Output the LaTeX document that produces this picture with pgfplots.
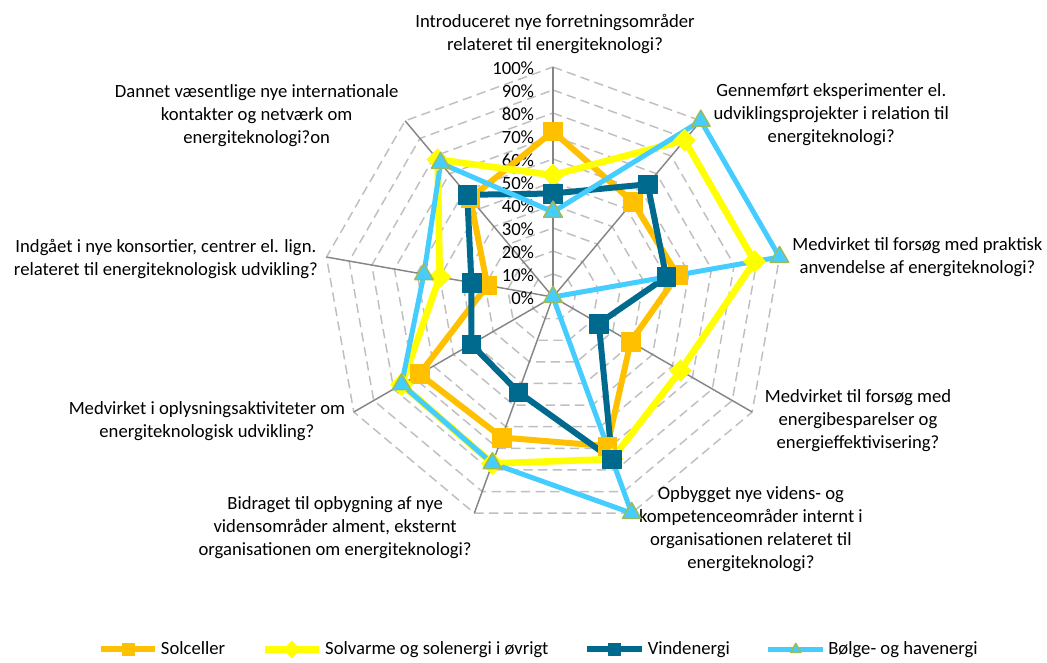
\documentclass[border=0pt]{standalone}
\usepackage{fontspec}
\setmainfont{Carlito}
\usepackage{pgfplots}
\pgfplotsset{compat=1.18}
\usepgfplotslibrary{polar}

\definecolor{solc}{RGB}{255,192,0}
\definecolor{solv}{RGB}{255,255,0}
\definecolor{vind}{RGB}{0,106,142}
\definecolor{bolge}{RGB}{70,205,255}
\definecolor{triedge}{RGB}{155,187,89}
\definecolor{gridc}{RGB}{191,191,191}
\definecolor{spoke}{RGB}{134,134,134}

\begin{document}
\begin{tikzpicture}[font=\fontsize{14}{17.25}\selectfont]
\useasboundingbox (-414.75pt,-273.75pt) rectangle (370.5pt,222.75pt);
\begin{polaraxis}[
  at={(0pt,0pt)}, anchor=center,
  scale only axis, width=345pt, height=345pt,
  ymin=0, ymax=100,
  hide axis, clip=false,
  legend columns=4,
  legend cell align=left,
  legend style={at={(0.4696,-0.266)}, anchor=center, draw=none, fill=none,
    /tikz/every even column/.append style={column sep=25pt}},
  legend image code/.code={
    \draw[mark repeat=2,mark phase=2,#1,mark size=4.5pt]
      plot coordinates {(0pt,0pt) (20.5pt,0pt) (41pt,0pt)};
  },
]

% spider web grid
\pgfplotsinvokeforeach{10,20,...,100}{
  \addplot[gridc, line width=1.1pt, dash pattern=on 7pt off 4pt, no marks, forget plot]
    coordinates {(90,#1) (50,#1) (10,#1) (-30,#1) (-70,#1) (-110,#1) (-150,#1) (-190,#1) (-230,#1) (-270,#1)};
}
\pgfplotsinvokeforeach{90,50,10,-30,-70,-110,-150,-190,-230}{
  \addplot[spoke, line width=1.1pt, no marks, forget plot] coordinates {(#1,0) (#1,100)};
}

% radial labels
\pgfplotsinvokeforeach{0,10,...,100}{
  \node[anchor=east, xshift=-14pt, yshift=-1pt, inner sep=0pt] at (axis cs:90,#1) {#1\%};
}

\addplot[solc, line width=4.5pt, line join=round, mark=square*, mark size=7pt,
  mark options={solid, line width=0.4pt}] coordinates {
  (90,72) (50,54) (10,55) (-30,39) (-70,69) (-110,65) (-150,67) (-190,29) (-230,56) (-270,72)};
\addlegendentry{Solceller}

\addplot[solv, line width=5pt, line join=round, mark=square*, mark size=5.8pt,
  mark options={solid, line width=0.4pt, rotate=45}] coordinates {
  (90,53) (50,89) (10,89) (-30,64) (-70,75) (-110,77) (-150,76) (-190,50) (-230,78) (-270,53)};
\addlegendentry{Solvarme og solenergi i øvrigt}

\addplot[vind, line width=4.5pt, line join=round, mark=square*, mark size=7pt,
  mark options={solid, line width=0.4pt}] coordinates {
  (90,45) (50,64) (10,50) (-30,23) (-70,75) (-110,44) (-150,41) (-190,36) (-230,58) (-270,45)};
\addlegendentry{Vindenergi}

\addplot[bolge, line width=3.75pt, line join=round, mark=triangle*, mark size=8pt,
  mark options={solid, line width=1.1pt, draw=triedge, fill=bolge}] coordinates {
  (90,37) (50,100) (10,100) (-30,0) (-70,100) (-110,77) (-150,76) (-190,57) (-230,76) (-270,37)};
\addlegendentry{Bølge- og havenergi}

% category labels
\node[anchor=south, align=center, xshift=1.5pt, yshift=6.5pt] at (axis cs:90,100)
  {Introduceret nye forretningsområder\\relateret til energiteknologi?};
\node[anchor=west, align=center, xshift=6pt, yshift=4.5pt] at (axis cs:50,100)
  {Gennemført eksperimenter el.\\udviklingsprojekter i relation til\\energiteknologi?};
\node[anchor=west, align=center, xshift=6.2pt] at (axis cs:10,100)
  {Medvirket til forsøg med praktisk\\anvendelse af energiteknologi?};
\node[anchor=west, align=center, xshift=6pt, yshift=-6.75pt] at (axis cs:-30,100)
  {Medvirket til forsøg med\\energibesparelser og\\energieffektivisering?};
\node[anchor=west, align=center, xshift=2pt, yshift=-12pt] at (axis cs:-70,100)
  {Opbygget nye videns- og\\kompetenceområder internt i\\organisationen relateret til\\energiteknologi?};
\node[anchor=east, align=center, xshift=1.5pt, yshift=-11.2pt] at (axis cs:-110,100)
  {Bidraget til opbygning af nye\\vidensområder alment, eksternt\\organisationen om energiteknologi?};
\node[anchor=east, align=center, xshift=-3pt, yshift=-6.75pt] at (axis cs:-150,100)
  {Medvirket i oplysningsaktiviteter om\\energiteknologisk udvikling?};
\node[anchor=east, align=center, xshift=-3pt, yshift=-1.5pt] at (axis cs:-190,100)
  {Indgået i nye konsortier, centrer el. lign.\\relateret til energiteknologisk udvikling?};
\node[anchor=east, align=center, xshift=-1.5pt, yshift=3.75pt] at (axis cs:-230,100)
  {Dannet væsentlige nye internationale\\kontakter og netværk om\\energiteknologi?on};
\end{polaraxis}
\end{tikzpicture}
\end{document}
